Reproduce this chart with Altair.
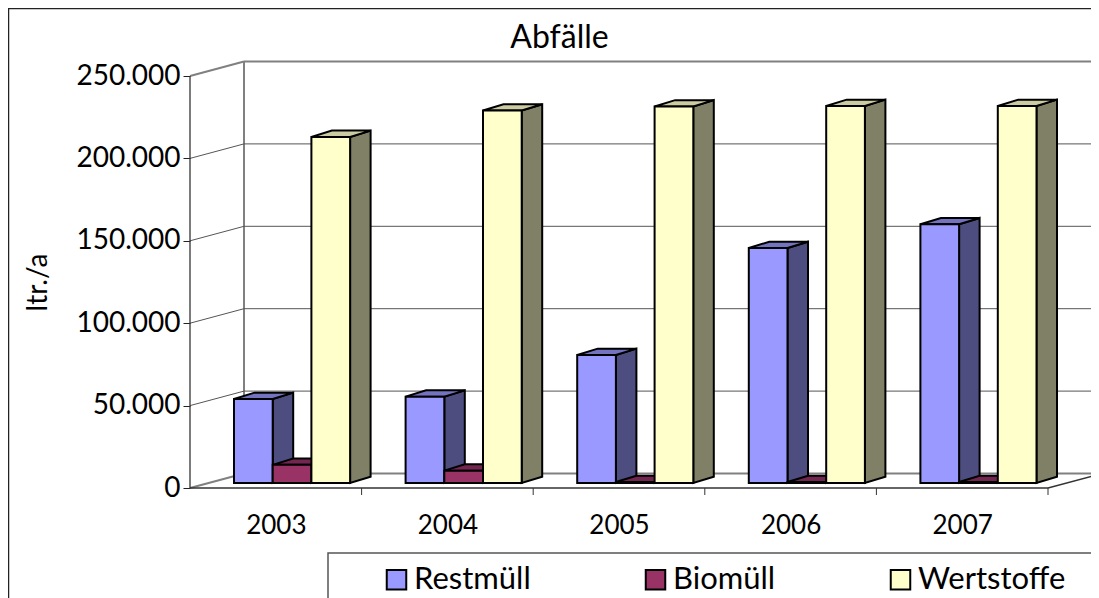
import altair as alt
import pandas as pd

years = ["2003", "2004", "2005", "2006", "2007"]
series = ["Restmüll", "Biomüll", "Wertstoffe"]
restmuell = [51000, 52400, 77700, 142600, 157000]
biomuell = [11000, 7500, 600, 600, 600]
wertstoffe = [210000, 226000, 228500, 228800, 228800]
front_colors = ["#9999FF", "#993366", "#FFFFCC"]
side_colors = ["#4D4D80", "#4D1A33", "#808066"]
cap_colors = ["#7373BF", "#732650", "#CCCCA3"]
y_ticks = [0, 50000, 100000, 150000, 200000, 250000]
FONT = "Lato"
LEGEND_FS = 31
TITLE_FS = 32
AXIS_FS = 28

W, H = 1083, 590
UX = 171.6          # px per category
UY = 0.001648       # px per unit of value
x_domain = [(8 - 190) / UX, (8 + W - 190) / UX]
y_domain = [(488 - 8 - H) / UY, (488 - 8) / UY]

wall_dx, wall_dy = 54 / UX, 14.5 / UY
bar_dx, bar_dy = 20.5 / UX, 6.3 / UY
lift = 5 / UY
bar_start = 44 / UX
bar_w = 38.7 / UX
n = len(years)

x_scale = alt.Scale(domain=x_domain, nice=False, zero=False)
y_scale = alt.Scale(domain=y_domain, nice=False, zero=False)
year_centres = [i + 0.5 for i in range(n)]
X = alt.X(
    "x:Q",
    scale=x_scale,
    axis=alt.Axis(
        values=year_centres,
        orient="bottom",
        offset=-(8 + H - 488),
        domain=False,
        grid=False,
        ticks=False,
        labelPadding=24,
        labelFont=FONT,
        labelFontSize=AXIS_FS - 2,
        labelColor="black",
        labelExpr=f"{years}[floor(datum.value)]",
        title=None,
    ),
)
Y = alt.Y(
    "y:Q",
    scale=y_scale,
    axis=alt.Axis(
        values=y_ticks,
        orient="left",
        offset=-182,
        domain=False,
        grid=False,
        tickColor="#222222",
        tickSize=7,
        labelPadding=3,
        labelFont=FONT,
        labelFontSize=AXIS_FS,
        labelColor="black",
        labelExpr="replace(format(datum.value, ','), ',', '.')",
        title="ltr./a",
        titleFont=FONT,
        titleFontSize=AXIS_FS,
        titleFontWeight="normal",
        titleColor="black",
        titlePadding=23,
        titleY=274,
    ),
)
color_scale = alt.Scale(domain=series, range=front_colors)

# ---- walls -----------------------------------------------------------
thin, thick = [], []
for v in y_ticks:
    back = {"x": wall_dx, "y": v + wall_dy, "x2": n + wall_dx, "y2": v + wall_dy}
    diag = {"x": 0, "y": v, "x2": wall_dx, "y2": v + wall_dy}
    (thick if v in (0, 250000) else thin).extend([back, diag])
thick.append({"x": wall_dx, "y": wall_dy, "x2": wall_dx, "y2": 250000 + wall_dy})
dark = [
    {"x": 0, "y": 0, "x2": 0, "y2": 250000},
    {"x": 0, "y": 0, "x2": n, "y2": 0},
    {"x": n, "y": 0, "x2": n + wall_dx, "y2": wall_dy},
]
ticks = [{"x": i, "y": 0, "x2": i, "y2": -7 / UY} for i in range(1, n + 1)]


def rules(rows, color, width):
    return alt.Chart(pd.DataFrame(rows)).mark_rule(color=color, strokeWidth=width).encode(
        x=X, x2="x2:Q", y=Y, y2="y2:Q"
    )


# ---- bars --------------------------------------------------------------
layers = []
for s, (name, vals) in enumerate(zip(series, [restmuell, biomuell, wertstoffe])):
    front, side, cap = [], [], []
    for i, v in enumerate(vals):
        L = i + bar_start + s * bar_w
        R = L + bar_w
        T = v + lift
        front.append({"x": L, "x2": R, "y": T, "y2": lift, "series": name})
        side += [
            {"g": i, "x": R, "y": T, "y2": lift},
            {"g": i, "x": R + bar_dx, "y": T + bar_dy, "y2": lift + bar_dy},
        ]
        cap += [
            {"g": i, "x": L, "y": T, "y2": T},
            {"g": i, "x": L + bar_dx, "y": T + bar_dy, "y2": T},
            {"g": i, "x": R, "y": T + bar_dy, "y2": T},
            {"g": i, "x": R + bar_dx, "y": T + bar_dy, "y2": T + bar_dy},
        ]
    layers.append(
        alt.Chart(pd.DataFrame(side))
        .mark_area(color=side_colors[s], stroke="black", strokeWidth=2)
        .encode(x=X, y=Y, y2="y2:Q", detail="g:N")
    )
    layers.append(
        alt.Chart(pd.DataFrame(cap))
        .mark_area(color=cap_colors[s], stroke="black", strokeWidth=2)
        .encode(x=X, y=Y, y2="y2:Q", detail="g:N")
    )
    layers.append(
        alt.Chart(pd.DataFrame(front))
        .mark_bar(stroke="black", strokeWidth=2)
        .encode(
            x=X,
            x2="x2:Q",
            y=Y,
            y2="y2:Q",
            color=alt.Color(
                "series:N",
                scale=color_scale,
                sort=series,
                legend=alt.Legend(
                    orient="none",
                    legendX=373,
                    legendY=556,
                    direction="horizontal",
                    columns=3,
                    columnPadding=109,
                    padding=0,
                    title=None,
                    symbolType="square",
                    symbolSize=380,
                    symbolStrokeColor="black",
                    symbolStrokeWidth=2,
                    labelFont=FONT,
                    labelFontSize=LEGEND_FS,
                    labelColor="black",
                    labelOffset=2,
                ),
            ),
        )
    )

one = pd.DataFrame({"k": [0]})
legend_box = (
    alt.Chart(one)
    .mark_rect(fill="white", stroke="#555555", strokeWidth=1.5)
    .encode(x=alt.value(320), x2=alt.value(W + 20), y=alt.value(545), y2=alt.value(H + 20))
)
frame_top = alt.Chart(one).mark_rule(color="#222222", strokeWidth=1.5).encode(
    x=alt.value(0), x2=alt.value(W), y=alt.value(0.5)
)
frame_left = alt.Chart(one).mark_rule(color="#222222", strokeWidth=1.5).encode(
    x=alt.value(0.5), y=alt.value(0), y2=alt.value(H)
)

chart = (
    alt.layer(
        frame_top,
        frame_left,
        rules(thick, "#808080", 2),
        rules(thin, "#555555", 1),
        rules(dark, "#333333", 1.3),
        rules(ticks, "#333333", 1),
        *layers,
        legend_box,
    )
    .resolve_scale(color="shared")
    .properties(
        width=W,
        height=H,
        autosize=alt.AutoSizeParams(type="none"),
        padding=0,
        title=alt.TitleParams(
            "Abfälle",
            font=FONT,
            fontSize=TITLE_FS,
            fontWeight="normal",
            color="black",
            anchor="middle",
            frame="group",
            dx=10,
            dy=52,
        ),
    )
    .configure_view(stroke=None)
)

chart.save("out.html", embed_options={"renderer": "svg", "actions": False})
